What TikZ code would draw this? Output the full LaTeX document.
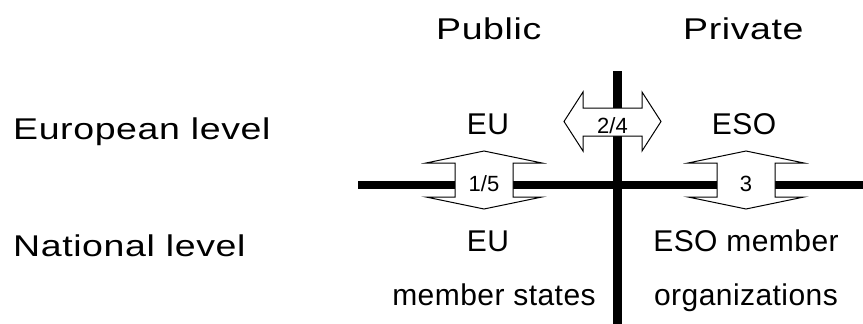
\documentclass[tikz,border=0pt]{standalone}
\usepackage{fontspec}
\setmainfont{Liberation Sans}
\newfontfamily\spacedfont[FakeStretch=1.25,LetterSpace=2]{Liberation Sans}
\newfontfamily\entfont[LetterSpace=1.5]{Liberation Sans}
\begin{document}
\begin{tikzpicture}[x=1pt,y=-1pt,
  bar/.style={line width=8.5pt},
  arrowshape/.style={draw=black, fill=white, line width=1pt, line join=miter},
  lbl/.style={font=\fontsize{30}{36}\selectfont\spacedfont, inner sep=0pt, anchor=base west},
  ent/.style={font=\fontsize{30}{36}\selectfont\entfont, inner sep=0pt, anchor=base},
  num/.style={font=\fontsize{22}{26}\selectfont, inner sep=1pt, anchor=base}]
\useasboundingbox (0,0) rectangle (863,324);
% axes
\coordinate (hl) at (358,185);
\coordinate (hr) at (863,185);
\coordinate (vt) at (617.5,71);
\coordinate (vm1) at (617.5,108);
\coordinate (vm2) at (617.5,136);
\coordinate (vb) at (617.5,324);
\draw[bar] (hl) -- (hr);
\draw[bar] (vt) -- (vm1);
\draw[bar] (vm2) -- (vb);
% vertical double arrows
\draw[arrowshape] (455,163) -- (426,163) -- (484,151) -- (542,163) -- (513,163) -- (513,197) -- (542,197) -- (484,209) -- (426,197) -- (455,197) -- cycle;
\draw[arrowshape] (717,163) -- (688,163) -- (746,151) -- (804,163) -- (775,163) -- (775,197) -- (804,197) -- (746,209) -- (688,197) -- (717,197) -- cycle;
% horizontal double arrow
\draw[arrowshape] (583,108) -- (583,92) -- (564,121.5) -- (583,151) -- (583,136) -- (642,136) -- (642,151) -- (661,121.5) -- (642,92) -- (642,108) -- cycle;
% arrow labels
\node[num] (n15) at (484,191) {1/5};
\node[num] (n3) at (746,191) {3};
\node[num] (n24) at (612.5,133) {2/4};
% headings
\node[lbl] (public) at (436,39) {Public};
\node[lbl] (private) at (683,39) {Private};
\node[lbl] (eurl) at (13,139) {European level};
\node[lbl] (natl) at (13,256) {National level};
% entities
\node[ent] (eu) at (488,134) {EU};
\node[ent] (eso) at (744,134) {ESO};
\node[ent] (eums) at (488,251) {EU};
\node[ent] (esom) at (746,251) {ESO member};
\node[ent] (ms) at (494,305) {member states};
\node[ent] (org) at (746,305) {organizations};
\end{tikzpicture}
\end{document}
